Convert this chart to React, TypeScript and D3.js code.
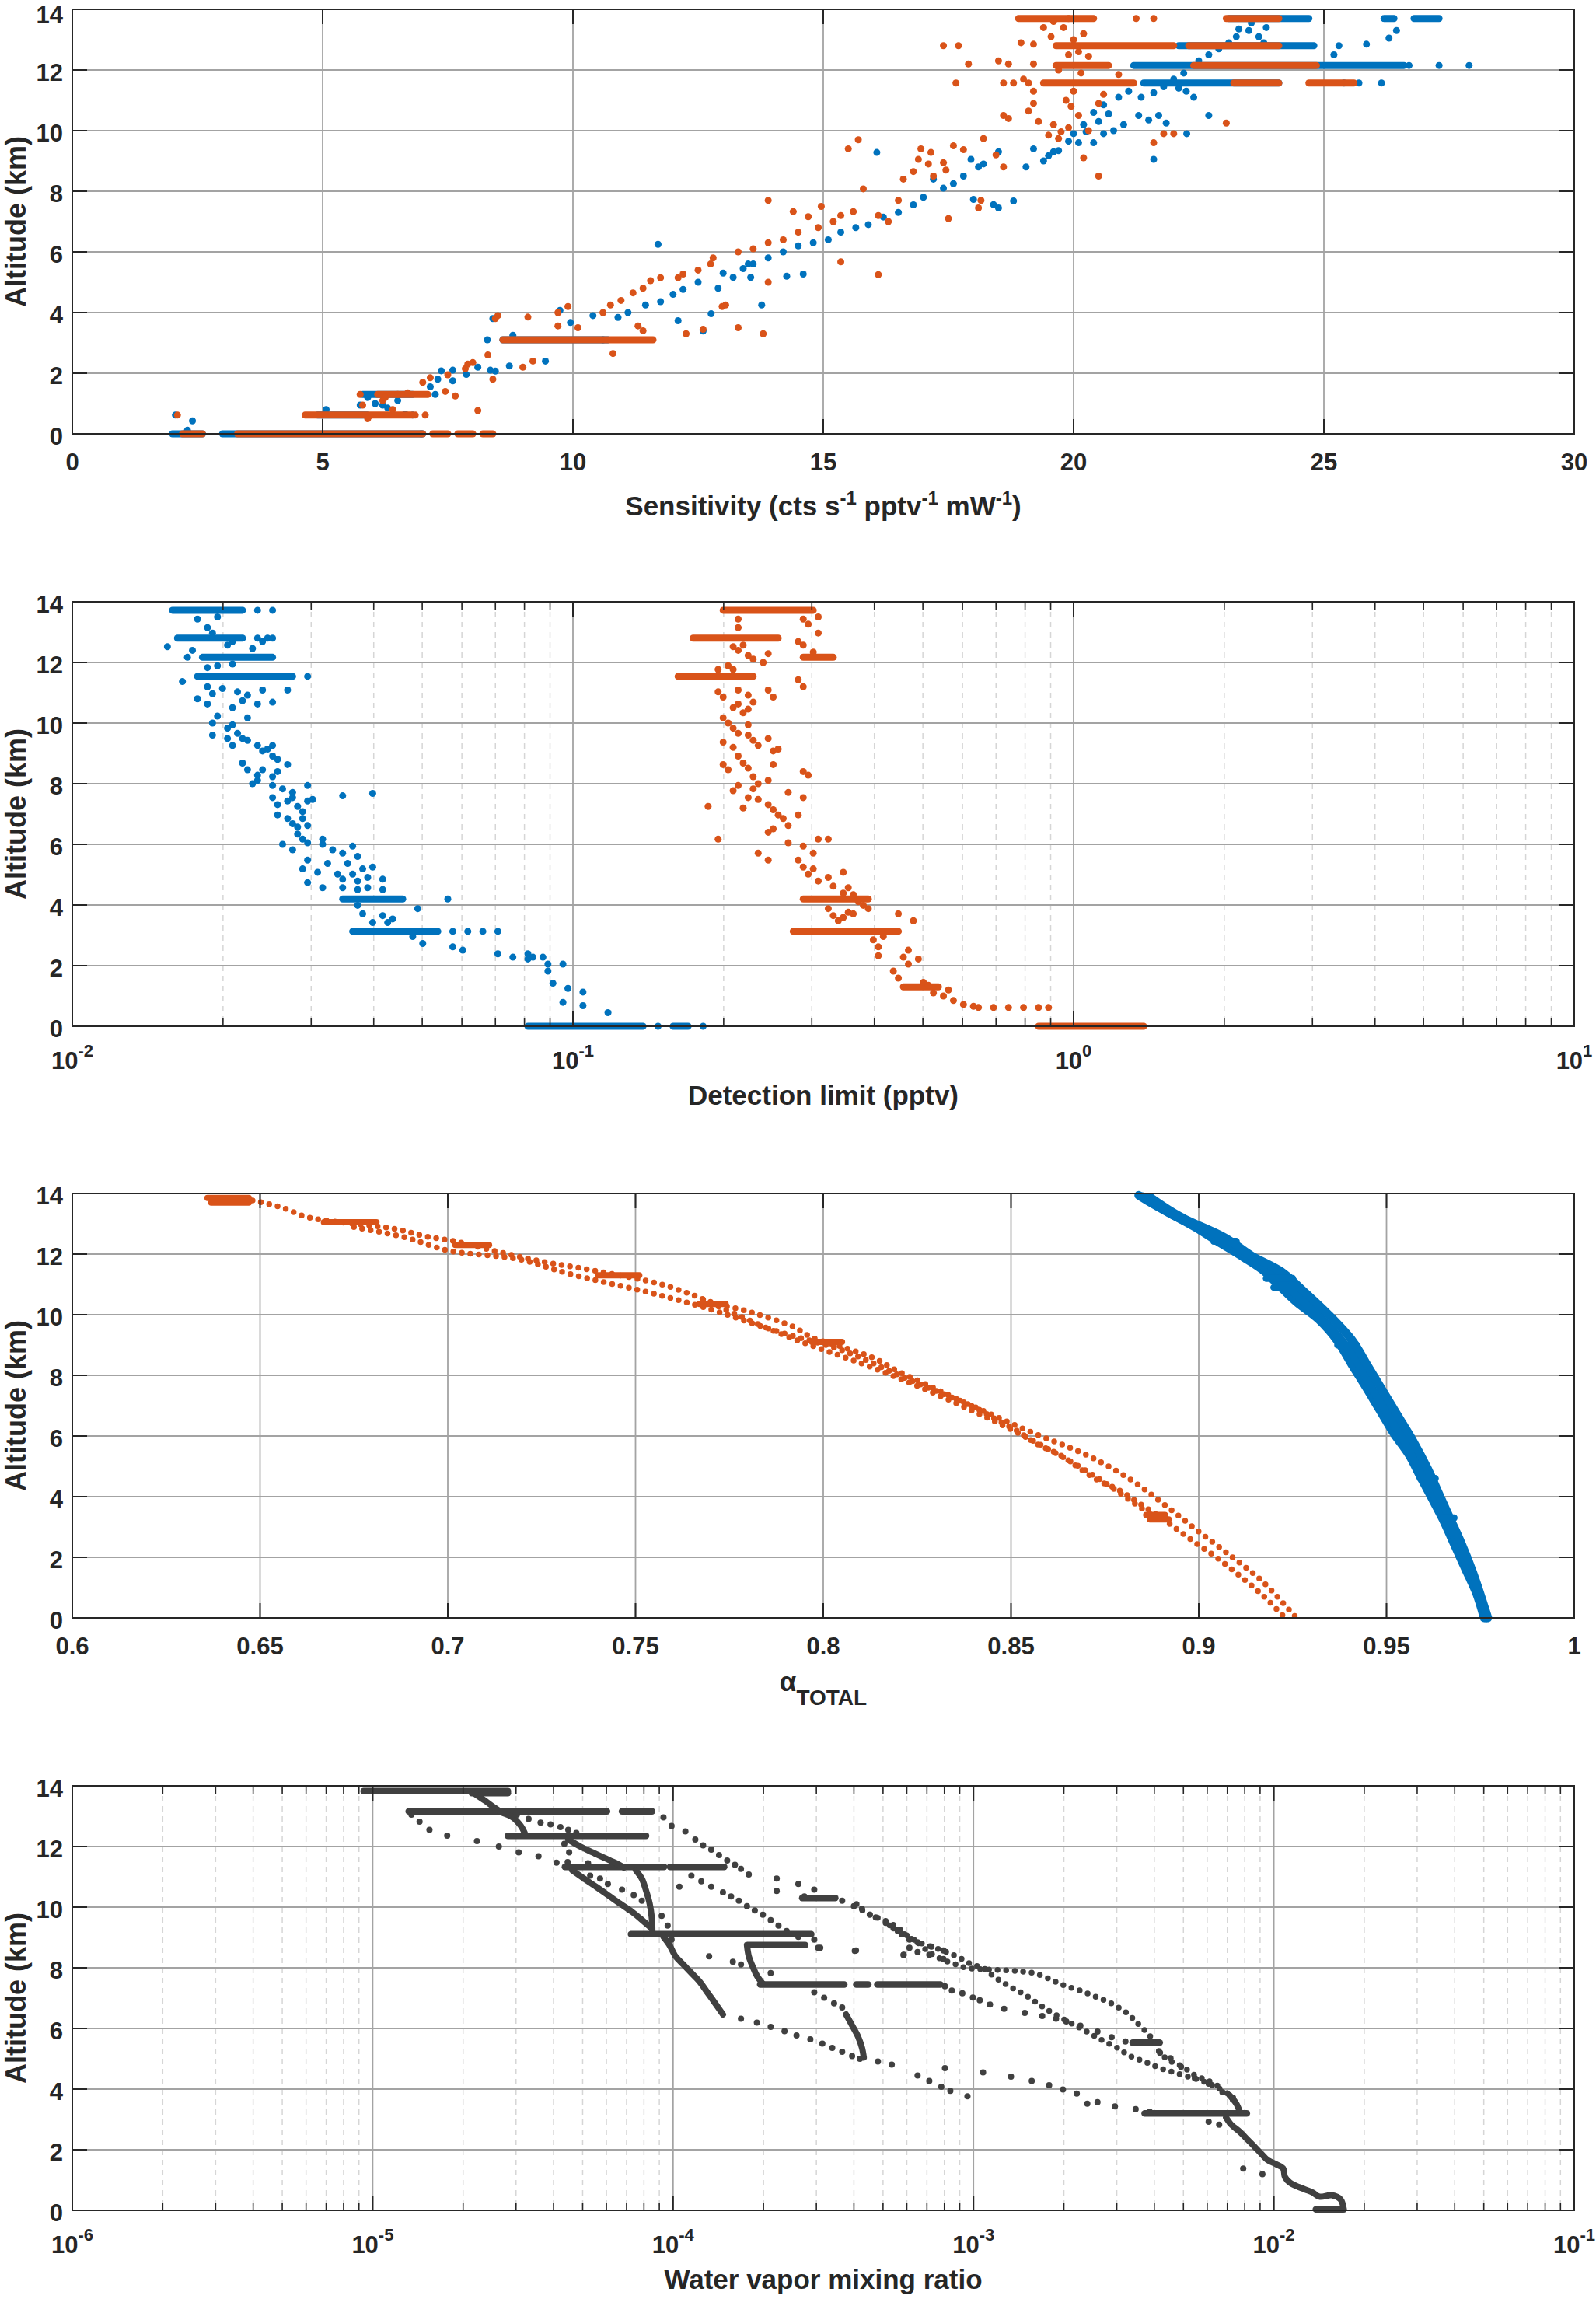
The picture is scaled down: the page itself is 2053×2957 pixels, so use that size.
import React from "react";
import * as d3 from "d3";

type Pt = [number, number]; // [x value, altitude km]
type Run = [number, number, number]; // [altitude km, x start, x end]

const WIDTH = 2053;
const HEIGHT = 2957;
const LEFT = 93;
const RIGHT = 2025;
const PANEL_H = 546;
const TOPS = [12, 774, 1535, 2297];

const BLUE = "#0072BD";
const ORANGE = "#D95319";
const GRAY = "#404040";
const INK = "#262626";
const FONT = "'Liberation Sans', Arial, Helvetica, sans-serif";

const altTicks = [0, 2, 4, 6, 8, 10, 12, 14];
const sensTicks = [0, 5, 10, 15, 20, 25, 30];
const dlDecades = [-2, -1, 0, 1];
const alphaTicks = [0.6, 0.65, 0.7, 0.75, 0.8, 0.85, 0.9, 0.95, 1];
const alphaTickLabels = ["0.6", "0.65", "0.7", "0.75", "0.8", "0.85", "0.9", "0.95", "1"];
const wvDecades = [-6, -5, -4, -3, -2, -1];

// ---------- panel 1: sensitivity ----------
const sensBlueRuns: Run[] = [
  [0, 2.0, 2.6], [0, 3.0, 7.0], [0.62, 4.9, 5.9], [1.3, 5.8, 6.8], [3.1, 8.6, 10.7],
  [13.7, 23.1, 24.7], [13.7, 26.2, 26.4], [13.7, 26.8, 27.3],
  [12.8, 22.1, 24.8], [12.15, 21.2, 26.6], [11.57, 21.4, 24.1],
];
const sensBluePts: Pt[] = [
  [2.06, 0.62], [2.3, 0.12], [2.4, 0.43], [5.07, 0.8], [5.75, 0.95], [5.9, 1.2], [6.05, 1.0],
  [6.2, 0.95], [6.3, 0.85], [6.5, 1.1], [6.65, 0.65], [6.8, 0.62], [6.97, 0], [7.25, 1.3],
  [7.15, 1.55], [7.3, 1.8], [7.37, 2.08], [7.6, 1.75], [7.6, 2.1], [7.87, 1.96], [8.1, 2.2],
  [8.29, 3.1], [8.35, 2.1], [8.4, 3.8], [8.73, 2.24], [8.45, 2.07], [9.45, 2.4], [8.8, 3.25],
  [9.74, 4.07], [9.95, 3.67], [10.4, 3.9], [10.6, 3.1], [10.9, 3.84], [11.1, 4.0], [11.45, 4.25],
  [11.7, 6.25], [11.75, 4.36], [12.0, 4.6], [12.2, 4.76], [12.5, 5.0], [12.1, 3.73], [12.6, 3.39],
  [12.76, 3.96], [13.77, 4.25], [12.9, 4.8], [13.2, 5.16], [13.4, 5.45], [13.6, 5.6], [13.55, 5.16],
  [13.9, 5.8], [14.27, 5.2], [14.6, 5.27], [13.0, 5.3], [13.5, 5.6],
  [14.2, 6.0], [14.5, 6.2], [14.8, 6.3], [15.1, 6.4], [15.35, 6.65], [15.65, 6.8], [15.9, 6.9],
  [16.2, 7.15], [16.5, 7.3], [16.8, 7.55], [17.0, 7.8], [17.2, 8.4], [17.4, 8.1], [17.6, 8.25],
  [17.8, 8.5], [17.95, 9.05], [18.1, 8.8], [18.2, 8.9], [18.5, 9.3], [18.0, 7.73], [18.4, 7.56],
  [18.5, 7.45], [18.8, 7.68], [16.07, 9.28],
  [19.05, 8.8], [19.4, 9.0], [19.6, 9.3], [19.9, 9.65], [20.0, 9.9], [20.2, 10.2], [20.4, 10.6],
  [20.6, 10.85], [20.9, 11.1], [21.1, 11.3], [19.2, 9.4], [19.5, 9.17], [19.7, 9.34], [20.1, 9.6],
  [20.25, 9.96], [20.4, 9.6], [20.6, 9.9], [20.8, 10.0], [21.0, 10.2], [20.5, 10.3], [20.7, 10.55],
  [21.6, 9.05], [21.3, 10.5], [21.5, 10.35], [21.7, 10.5], [21.85, 10.25], [22.26, 9.9], [22.7, 10.5],
  [22.4, 11.1], [22.25, 11.3], [22.1, 11.4], [21.35, 11.1], [21.6, 11.25], [21.8, 11.45], [22.0, 11.7],
  [22.2, 11.9], [22.5, 12.3], [22.7, 12.5], [22.9, 12.7], [23.1, 12.9], [23.25, 13.1], [23.3, 13.35],
  [23.5, 13.3], [23.7, 13.1], [23.8, 12.9], [23.85, 13.4], [23.55, 13.55], [25.2, 12.5], [25.85, 12.85],
  [26.3, 13.05], [26.45, 13.3], [25.3, 12.8], [26.7, 12.15], [27.3, 12.15], [27.9, 12.15],
  [25.4, 11.57], [25.7, 11.57], [26.15, 11.57],
];
const sensOrangeRuns: Run[] = [
  [0, 2.2, 2.6], [0, 3.3, 7.0], [0, 7.2, 7.5], [0, 7.7, 8.0], [0, 8.2, 8.4],
  [0.62, 4.65, 6.8], [1.3, 6.1, 7.1], [3.1, 8.6, 11.6],
  [13.7, 18.9, 20.4], [13.7, 23.05, 24.1],
  [12.8, 19.65, 22.0], [12.8, 22.3, 24.1],
  [12.15, 19.65, 20.7], [12.15, 22.4, 24.85],
  [11.57, 19.4, 21.2], [11.57, 23.2, 24.1], [11.57, 24.7, 25.6],
];
const sensOrangePts: Pt[] = [
  [2.1, 0.62], [5.75, 1.3], [5.8, 0.95], [5.95, 0.6], [5.9, 0.5], [6.2, 1.1], [6.25, 1.2],
  [6.4, 0.8], [6.5, 1.3], [6.7, 1.35], [6.85, 0.62], [7.05, 0.62], [7.0, 1.7], [7.15, 1.85],
  [7.5, 1.95], [7.45, 1.4], [7.65, 1.25], [7.85, 2.15], [7.9, 2.3], [8.0, 2.35], [8.1, 0.77],
  [8.3, 2.6], [8.4, 1.8], [8.5, 3.9], [8.45, 3.8], [9.0, 2.2], [9.2, 2.4], [9.1, 3.85],
  [9.7, 4.0], [9.9, 4.2], [9.7, 3.56], [10.1, 3.5], [10.6, 4.0], [10.75, 4.25], [10.96, 4.4],
  [11.2, 4.65], [11.4, 4.8], [11.55, 5.05], [11.75, 5.15], [12.1, 5.15], [12.2, 5.27], [12.5, 5.4],
  [12.75, 5.6], [12.8, 5.8], [11.3, 3.56], [12.26, 3.3], [12.6, 3.45], [12.98, 4.2], [13.05, 4.25],
  [13.3, 3.5], [13.8, 3.3], [13.9, 5.0], [13.3, 6.0], [13.6, 6.1], [13.9, 6.3], [14.2, 6.4],
  [14.5, 6.65], [14.7, 7.16], [14.9, 6.8], [15.2, 7.0], [15.35, 7.2], [15.6, 7.33], [15.8, 8.08],
  [13.9, 7.7], [14.4, 7.33], [14.96, 7.5], [15.35, 5.67], [16.1, 5.25], [15.5, 9.4], [15.7, 9.7],
  [16.1, 7.2], [16.3, 7.0], [16.5, 7.7], [16.6, 8.4], [16.8, 8.65], [16.9, 9.05], [17.1, 8.9],
  [16.95, 9.4], [17.15, 9.28], [17.4, 8.94], [17.6, 9.5], [17.8, 9.37], [17.2, 8.5], [17.45, 8.7],
  [17.5, 7.1], [18.1, 7.45], [18.15, 7.7], [18.2, 9.74], [18.45, 9.2], [18.6, 8.8], [18.6, 10.5],
  [18.7, 10.4], [19.1, 10.65], [19.2, 10.9], [19.3, 10.3], [19.5, 9.85], [19.6, 10.2], [19.7, 9.74],
  [19.75, 9.96], [19.95, 10.8], [20.1, 10.5], [20.2, 9.1], [20.5, 8.5], [20.5, 10.9], [20.9, 11.85],
  [21.6, 9.6], [21.8, 9.9], [22.0, 9.9], [23.05, 10.25], [18.5, 12.3], [18.7, 12.2], [19.2, 12.2],
  [18.95, 12.9], [19.2, 12.85], [19.0, 11.7], [19.2, 11.3], [19.4, 13.4], [19.6, 13.6], [19.8, 13.4],
  [19.9, 13.7], [17.65, 11.57], [17.9, 12.2], [17.4, 12.8], [17.7, 12.8], [18.6, 11.57], [18.8, 11.57],
  [19.1, 11.57], [19.85, 11.0], [20.0, 11.3], [20.15, 11.9], [19.9, 12.5], [20.3, 12.45], [20.1, 12.6],
  [19.7, 12.0], [20.0, 13.0], [20.2, 13.2], [19.55, 13.1], [20.6, 11.2], [19.9, 10.1], [20.3, 10.0],
  [21.25, 13.7], [21.6, 13.7], [10.8, 2.65], [11.4, 3.4],
];

// ---------- panel 2: detection limit (log10 pptv) ----------
const dlBlueRuns: Run[] = [
  [13.72, -1.8, -1.66], [12.8, -1.79, -1.66], [12.17, -1.74, -1.6], [11.54, -1.75, -1.56],
  [4.2, -1.46, -1.34], [3.13, -1.44, -1.27], [0, -1.09, -0.86], [0, -0.8, -0.77],
];
const dlBlueLog: Pt[] = [
  [-1.63, 13.72], [-1.6, 13.72], [-1.63, 12.8], [-1.61, 12.8], [-1.53, 11.54], [-1.25, 4.2],
  [-1.24, 3.13], [-1.21, 3.13], [-1.18, 3.13], [-1.15, 3.13], [-0.83, 0], [-0.74, 0],
  [-1.81, 12.52], [-1.76, 12.4], [-1.77, 12.17], [-1.75, 13.43], [-1.73, 13.15], [-1.72, 12.97],
  [-1.71, 13.5], [-1.69, 12.57], [-1.68, 12.69], [-1.64, 12.46], [-1.62, 12.69], [-1.6, 12.8],
  [-1.78, 11.37], [-1.73, 11.83], [-1.71, 11.89], [-1.68, 11.95], [-1.73, 11.2], [-1.7, 11.14],
  [-1.67, 11.03], [-1.65, 10.92], [-1.62, 11.09], [-1.57, 11.09], [-1.75, 10.8], [-1.73, 10.63],
  [-1.72, 10.97], [-1.68, 10.51], [-1.66, 10.74], [-1.63, 10.63], [-1.6, 10.69],
  [-1.72, 10.0], [-1.71, 10.23], [-1.69, 9.83], [-1.68, 9.94], [-1.67, 9.66], [-1.65, 10.17],
  [-1.72, 9.6], [-1.69, 9.49], [-1.68, 9.26], [-1.66, 9.49],
  [-1.65, 9.43], [-1.63, 9.26], [-1.62, 9.08], [-1.61, 9.14], [-1.6, 8.91], [-1.6, 9.26],
  [-1.59, 8.8], [-1.57, 8.63], [-1.66, 8.68], [-1.65, 8.46], [-1.63, 8.28], [-1.62, 8.46],
  [-1.6, 8.23], [-1.59, 8.4], [-1.64, 8.0], [-1.63, 8.11], [-1.6, 7.94], [-1.58, 7.83],
  [-1.56, 7.71], [-1.53, 7.94],
  [-1.6, 7.54], [-1.59, 7.31], [-1.57, 7.43], [-1.56, 7.54], [-1.55, 7.25], [-1.54, 7.08],
  [-1.53, 7.43], [-1.52, 7.48], [-1.59, 6.97], [-1.57, 6.85], [-1.56, 6.68], [-1.55, 6.57],
  [-1.55, 6.34], [-1.54, 6.17], [-1.53, 6.62], [-1.58, 6.0], [-1.56, 5.82], [-1.54, 6.85],
  [-1.46, 7.6], [-1.4, 7.68],
  [-1.53, 6.05], [-1.5, 6.0], [-1.5, 6.17], [-1.48, 5.82], [-1.46, 5.71], [-1.45, 5.37],
  [-1.44, 5.94], [-1.43, 5.6], [-1.42, 5.19], [-1.54, 5.19], [-1.53, 5.48], [-1.51, 5.08],
  [-1.49, 5.37], [-1.47, 5.02], [-1.46, 4.85], [-1.44, 5.02], [-1.43, 4.79], [-1.41, 4.91],
  [-1.4, 5.25], [-1.38, 4.85], [-1.53, 4.74], [-1.5, 4.57], [-1.46, 4.57], [-1.43, 4.51],
  [-1.41, 4.57], [-1.38, 4.51],
  [-1.43, 3.99], [-1.42, 3.71], [-1.4, 3.42], [-1.38, 3.65], [-1.37, 3.42], [-1.36, 3.54],
  [-1.31, 3.88], [-1.32, 2.96], [-1.3, 2.73],
  [-1.24, 2.62], [-1.22, 2.51], [-1.15, 2.39], [-1.12, 2.28], [-1.09, 2.39], [-1.08, 2.28],
  [-1.06, 2.28], [-1.05, 2.05], [-1.05, 1.82], [-1.02, 2.05], [-1.04, 1.42], [-1.01, 1.25],
  [-0.98, 1.13], [-1.02, 0.79], [-0.98, 0.68], [-0.93, 0.45], [-1.09, 2.22],
];
const dlOrangeRuns: Run[] = [
  [13.72, -0.7, -0.52], [12.8, -0.76, -0.59], [12.17, -0.54, -0.48], [11.54, -0.79, -0.64],
  [4.2, -0.54, -0.41], [3.13, -0.56, -0.35], [1.3, -0.34, -0.27], [0, -0.07, 0.14],
];
const dlOrangeLog: Pt[] = [
  [-0.67, 13.43], [-0.67, 13.15], [-0.54, 13.43], [-0.53, 13.26], [-0.51, 13.5], [-0.55, 12.69],
  [-0.54, 12.57], [-0.52, 12.34], [-0.51, 12.97], [-0.68, 12.52], [-0.67, 12.4], [-0.66, 12.57],
  [-0.65, 12.23], [-0.69, 11.89], [-0.64, 12.11], [-0.62, 12.0], [-0.61, 12.29], [-0.71, 11.77],
  [-0.68, 11.77], [-0.55, 11.43], [-0.54, 11.2], [-0.61, 11.09], [-0.6, 10.86], [-0.71, 11.03],
  [-0.7, 10.86], [-0.67, 11.09], [-0.65, 10.92], [-0.64, 10.69], [-0.68, 10.51], [-0.67, 10.63],
  [-0.66, 10.34], [-0.65, 10.46], [-0.7, 10.17], [-0.69, 10.0], [-0.68, 9.83], [-0.67, 9.66],
  [-0.65, 9.94], [-0.65, 9.6], [-0.64, 9.43], [-0.63, 9.26], [-0.61, 9.49], [-0.6, 9.08],
  [-0.59, 9.14], [-0.7, 9.37], [-0.68, 9.2], [-0.7, 8.63], [-0.69, 8.46], [-0.67, 8.91],
  [-0.66, 8.68], [-0.65, 8.51], [-0.64, 8.23], [-0.63, 8.0], [-0.61, 8.11], [-0.6, 8.63],
  [-0.54, 8.4], [-0.53, 8.28], [-0.68, 7.77], [-0.67, 7.94], [-0.65, 7.54], [-0.64, 7.83],
  [-0.63, 7.48], [-0.61, 7.31], [-0.6, 7.14], [-0.59, 6.97], [-0.58, 6.85], [-0.57, 6.62],
  [-0.55, 6.97], [-0.73, 7.25], [-0.66, 7.2], [-0.71, 6.17], [-0.61, 6.4], [-0.6, 6.51],
  [-0.57, 7.71], [-0.54, 7.54], [-0.63, 5.71], [-0.61, 5.48], [-0.57, 6.05], [-0.54, 5.94],
  [-0.52, 5.71], [-0.51, 6.17], [-0.49, 6.17], [-0.55, 5.48], [-0.54, 5.25], [-0.53, 5.02],
  [-0.52, 5.19], [-0.51, 4.79], [-0.49, 4.91], [-0.48, 4.62], [-0.46, 5.08], [-0.46, 4.39],
  [-0.45, 4.57], [-0.44, 4.34], [-0.43, 4.11], [-0.49, 3.88], [-0.48, 3.65], [-0.47, 3.48],
  [-0.46, 3.59], [-0.45, 3.76], [-0.44, 3.71], [-0.42, 3.99], [-0.41, 3.88], [-0.4, 2.85],
  [-0.39, 2.33], [-0.39, 2.62], [-0.38, 2.96], [-0.36, 1.82], [-0.35, 1.59], [-0.34, 2.28],
  [-0.33, 2.05], [-0.33, 2.51], [-0.35, 3.71], [-0.32, 3.48], [-0.31, 2.22],
  [-0.3, 1.45], [-0.29, 1.35], [-0.28, 1.1], [-0.26, 1.0], [-0.25, 1.2], [-0.24, 0.85],
  [-0.22, 0.72], [-0.2, 0.66], [-0.19, 0.62], [-0.16, 0.62], [-0.13, 0.62], [-0.1, 0.62],
  [-0.07, 0.62], [-0.05, 0.62],
];

// ---------- panel 3: alpha total ----------
const alphaBlueTracks: Pt[][] = [
  [
    [0.884, 13.94], [0.887, 13.71], [0.892, 13.36], [0.899, 12.89], [0.905, 12.42], [0.912, 11.89],
    [0.917, 11.48], [0.921, 11.01], [0.926, 10.42], [0.932, 9.84], [0.937, 9.13], [0.941, 8.31],
    [0.944, 7.72], [0.948, 6.9], [0.952, 6.08], [0.956, 5.38], [0.959, 4.67], [0.962, 3.97],
    [0.965, 3.26], [0.968, 2.44], [0.971, 1.62], [0.974, 0.8], [0.976, 0],
  ],
  [
    [0.885, 13.9], [0.893, 13.3], [0.906, 12.48], [0.913, 11.92], [0.919, 11.45], [0.924, 10.9],
    [0.93, 10.2], [0.937, 9.3], [0.943, 8.31], [0.946, 7.6], [0.95, 6.8], [0.954, 6.0],
    [0.958, 5.1], [0.962, 4.2], [0.966, 3.26], [0.969, 2.44], [0.972, 1.55], [0.9765, 0],
  ],
  [
    [0.887, 13.88], [0.895, 13.24], [0.907, 12.54], [0.914, 11.95], [0.922, 11.42], [0.928, 10.77],
    [0.935, 9.95], [0.941, 9.13], [0.945, 8.31], [0.949, 7.49], [0.953, 6.67], [0.957, 5.85],
    [0.961, 4.91], [0.964, 4.08], [0.967, 3.26], [0.97, 2.44], [0.973, 1.5], [0.977, 0],
  ],
];
const alphaBlueRuns: Run[] = [
  [12.42, 0.904, 0.91], [11.2, 0.918, 0.925], [10.9, 0.92, 0.926], [9.0, 0.937, 0.942],
  [4.6, 0.959, 0.963], [3.3, 0.965, 0.968],
];
const alphaOrangeTracks: Pt[][] = [
  [
    [0.648, 13.77], [0.656, 13.53], [0.662, 13.24], [0.667, 13.12], [0.686, 12.83], [0.694, 12.59],
    [0.702, 12.42], [0.716, 12.0], [0.727, 11.71], [0.738, 11.48], [0.757, 11.0], [0.765, 10.66],
    [0.77, 10.42], [0.781, 10.07], [0.792, 9.6], [0.797, 9.25], [0.806, 8.9], [0.814, 8.54],
    [0.819, 8.19], [0.825, 7.84], [0.83, 7.55], [0.835, 7.25], [0.841, 6.9], [0.846, 6.55],
    [0.852, 6.14], [0.857, 5.73], [0.863, 5.38], [0.868, 4.96], [0.873, 4.55], [0.879, 4.2],
    [0.884, 3.79], [0.89, 3.3], [0.895, 2.85], [0.9, 2.4], [0.905, 1.97], [0.911, 1.38],
    [0.917, 0.75], [0.923, 0],
  ],
  [
    [0.675, 12.89], [0.689, 12.54], [0.7, 12.12], [0.719, 11.83], [0.732, 11.36], [0.754, 10.72],
    [0.768, 10.25], [0.787, 9.48], [0.806, 8.78], [0.822, 7.9], [0.838, 7.08], [0.854, 6.2],
    [0.871, 5.32], [0.882, 4.55], [0.891, 3.72], [0.9, 2.85], [0.909, 2.0], [0.917, 1.2],
    [0.926, 0],
  ],
  [
    [0.768, 10.5], [0.79, 9.3], [0.81, 8.4], [0.826, 7.6], [0.842, 6.7], [0.858, 5.7],
    [0.872, 4.7], [0.885, 3.6], [0.89, 3.2],
  ],
];
const alphaOrangeRuns: Run[] = [
  [13.85, 0.636, 0.647], [13.7, 0.637, 0.647], [13.05, 0.667, 0.681], [12.3, 0.702, 0.711],
  [11.3, 0.74, 0.751], [10.35, 0.767, 0.774], [9.1, 0.797, 0.805], [3.25, 0.887, 0.892],
  [3.4, 0.886, 0.891],
];

// ---------- panel 4: water vapour (log10 mixing ratio) ----------
const wvRuns: Run[] = [
  [13.83, -5.03, -4.55], [13.76, -4.67, -4.55], [13.16, -4.88, -4.22], [13.16, -4.17, -4.07],
  [12.35, -4.55, -4.09], [11.33, -4.36, -4.03], [11.33, -4.01, -3.83], [9.11, -4.14, -3.54],
  [8.75, -3.75, -3.56], [7.45, -3.71, -3.43], [7.45, -3.39, -3.35], [7.45, -3.32, -3.11],
  [5.53, -2.47, -2.38], [3.2, -2.43, -2.09], [10.3, -3.57, -3.46], [0.03, -1.86, -1.77],
];
const wvSolidTracks: Pt[][] = [
  [[-4.666, 13.78], [-4.626, 13.51], [-4.6, 13.32], [-4.573, 13.14], [-4.534, 12.96], [-4.507, 12.68], [-4.494, 12.45]],
  [[-4.349, 12.23], [-4.309, 12.0], [-4.269, 11.81], [-4.23, 11.63], [-4.19, 11.45], [-4.164, 11.31]],
  [[-4.336, 11.22], [-4.296, 10.94], [-4.256, 10.67], [-4.217, 10.4], [-4.177, 10.12], [-4.137, 9.85], [-4.098, 9.53], [-4.071, 9.3]],
  [[-4.124, 11.22], [-4.104, 10.94], [-4.091, 10.58], [-4.078, 10.12], [-4.071, 9.66], [-4.069, 9.21]],
  [[-4.032, 9.02], [-4.012, 8.75], [-3.992, 8.38], [-3.966, 8.11], [-3.939, 7.83], [-3.913, 7.56], [-3.886, 7.19], [-3.86, 6.83], [-3.834, 6.46]],
  [[-3.754, 8.75], [-3.748, 8.38], [-3.734, 8.02], [-3.721, 7.74], [-3.701, 7.47]],
  [[-3.424, 6.46], [-3.404, 6.1], [-3.384, 5.73], [-3.371, 5.36], [-3.365, 5.04]],
  [[-2.148, 3.8], [-2.125, 3.52], [-2.113, 3.24]],
  [
    [-2.159, 3.06], [-2.142, 2.83], [-2.113, 2.59], [-2.09, 2.36], [-2.067, 2.13], [-2.044, 1.89],
    [-2.021, 1.66], [-1.992, 1.52], [-1.969, 1.38], [-1.963, 1.1], [-1.946, 0.91], [-1.917, 0.77],
    [-1.894, 0.68], [-1.871, 0.59], [-1.848, 0.45], [-1.807, 0.5], [-1.778, 0.36], [-1.767, 0.03],
  ],
];
const wvDottedTracks: Pt[][] = [
  [
    [-3.389, 10.1], [-3.366, 9.86], [-3.326, 9.68], [-3.291, 9.54], [-3.256, 9.35], [-3.222, 9.07],
    [-3.181, 8.84], [-3.141, 8.7], [-3.1, 8.56], [-3.066, 8.42], [-3.037, 8.28], [-3.002, 8.09],
    [-2.968, 8.0], [-2.933, 7.72], [-2.898, 7.49], [-2.864, 7.3], [-2.829, 7.11], [-2.794, 6.88],
    [-2.766, 6.69], [-2.737, 6.51], [-2.702, 6.32], [-2.667, 6.13], [-2.633, 5.95], [-2.598, 5.76],
    [-2.563, 5.57], [-2.517, 5.34], [-2.483, 5.11], [-2.448, 4.97], [-2.413, 4.83], [-2.379, 4.69],
    [-2.333, 4.55], [-2.286, 4.41], [-2.24, 4.27], [-2.194, 4.08], [-2.148, 3.8], [-2.125, 3.43],
  ],
  [
    [-3.279, 9.4], [-3.245, 9.21], [-3.21, 8.98], [-3.187, 8.84], [-3.147, 8.51], [-3.106, 8.28],
    [-3.066, 8.14], [-3.025, 8.0], [-2.881, 7.91], [-2.794, 7.81], [-2.725, 7.53], [-2.691, 7.39],
    [-2.644, 7.25], [-2.587, 7.02], [-2.552, 6.88], [-2.517, 6.69], [-2.483, 6.46], [-2.46, 6.23],
    [-2.431, 5.95], [-2.402, 5.62], [-2.379, 5.2], [-2.344, 4.92], [-2.304, 4.74], [-2.263, 4.46],
    [-2.217, 4.27], [-2.182, 4.08],
  ],
];
const wvPts: Pt[] = [
  // sparse left diagonal
  [-4.871, 13.05], [-4.844, 12.82], [-4.811, 12.55], [-4.752, 12.36], [-4.653, 12.18], [-4.58, 12.0],
  [-4.514, 11.81], [-4.448, 11.68], [-4.388, 11.47],
  [-4.52, 13.05], [-4.481, 12.91], [-4.441, 12.79], [-4.408, 12.73], [-4.375, 12.64], [-4.349, 12.55], [-4.322, 12.45],
  [-4.362, 12.09], [-4.346, 11.81], [-4.351, 11.49],
  [-4.283, 11.45], [-4.276, 11.04], [-4.243, 10.94], [-4.217, 10.76], [-4.17, 10.58], [-4.131, 10.4],
  [-4.104, 10.21], [-4.038, 9.71], [-4.018, 9.39], [-4.005, 8.93],
  // lower dotted profile
  [-3.774, 6.32], [-3.721, 6.19], [-3.675, 6.05], [-3.629, 5.91], [-3.589, 5.77], [-3.543, 5.64],
  [-3.503, 5.5], [-3.47, 5.36], [-3.437, 5.23], [-3.404, 5.09], [-3.378, 5.0], [-3.318, 4.91],
  [-3.272, 4.81], [-3.186, 4.45], [-3.147, 4.27], [-3.107, 4.08], [-3.077, 3.94], [-3.02, 3.76],
  [-3.53, 7.19], [-3.497, 7.01], [-3.464, 6.83], [-3.437, 6.69],
  [-3.979, 10.67], [-3.88, 8.38], [-3.801, 8.2], [-3.774, 8.11], [-3.675, 7.83], [-3.391, 8.57],
  [-3.51, 8.66], [-3.53, 8.93],
  // right dotted profile, upper part
  [-4.032, 12.96], [-4.005, 12.68], [-3.959, 12.5], [-3.926, 12.23], [-3.9, 12.04], [-3.873, 11.9],
  [-3.847, 11.72], [-3.82, 11.54], [-3.794, 11.4], [-3.774, 11.26], [-3.748, 11.08],
  [-3.655, 10.94], [-3.655, 10.53], [-3.583, 10.76], [-3.563, 10.35], [-3.53, 10.58],
  [-3.437, 10.21], [-3.398, 10.03], [-3.371, 9.94], [-3.345, 9.75], [-3.325, 9.66], [-3.292, 9.48],
  [-3.266, 9.3], [-3.239, 9.11], [-3.213, 8.93], [-3.186, 8.84], [-3.14, 8.7], [-3.1, 8.57],
  [-3.252, 9.21], [-3.213, 8.66], [-3.232, 8.43], [-3.186, 8.52], [-3.147, 8.43], [-3.1, 8.29],
  [-3.939, 11.04], [-3.906, 10.85], [-3.873, 10.67], [-3.834, 10.49], [-3.807, 10.35], [-3.781, 10.21],
  [-3.754, 10.03], [-3.728, 9.89], [-3.701, 9.75], [-3.675, 9.57], [-3.649, 9.39], [-3.622, 9.21],
  [-3.583, 9.02], [-3.517, 8.66],
  // continuation of the 7.45 km level
  [-3.095, 7.39], [-3.072, 7.25], [-3.037, 7.16], [-3.002, 7.02], [-2.979, 6.93], [-2.945, 6.79],
  [-2.898, 6.65], [-2.829, 6.51], [-2.771, 6.41], [-2.725, 6.32], [-2.691, 6.23], [-2.644, 6.09],
  [-2.587, 5.9], [-2.54, 5.71], [-2.494, 5.57], [-2.448, 5.53],
  [-2.379, 5.2], [-2.344, 5.02], [-2.309, 4.74], [-2.263, 4.36], [-2.217, 4.18], [-2.171, 3.9], [-2.136, 3.71],
  [-2.968, 4.55], [-2.875, 4.41], [-2.806, 4.27], [-2.748, 4.13], [-2.702, 3.99], [-2.656, 3.85],
  [-2.621, 3.52], [-2.587, 3.57], [-2.529, 3.43], [-2.46, 3.34], [-2.413, 3.25],
  [-3.395, 8.56], [-3.233, 8.42], [-3.095, 4.69],
  [-2.217, 2.92], [-2.182, 2.83], [-2.102, 1.38], [-2.038, 1.19],
];

// ---------- drawing ----------
type YScale = d3.ScaleLinear<number, number>;

interface PanelProps {
  top: number;
  x: (v: number) => number;
  majors: number[];
  minors?: number[];
  tickLabels: React.ReactNode[];
  tickDy: number;
  title: React.ReactNode;
  marks: (y: YScale) => React.ReactNode;
}

function Panel({ top, x, majors, minors = [], tickLabels, tickDy, title, marks }: PanelProps) {
  const bottom = top + PANEL_H;
  const y = d3.scaleLinear().domain([0, 14]).range([bottom, top]);
  return (
    <g>
      {minors.map((v) => (
        <line key={`mg${v}`} x1={x(v)} x2={x(v)} y1={top} y2={bottom} stroke="#d6d6d6" strokeWidth={1.5} strokeDasharray="7 6" />
      ))}
      {majors.map((v) => (
        <line key={`g${v}`} x1={x(v)} x2={x(v)} y1={top} y2={bottom} stroke="#a3a3a3" strokeWidth={1.8} />
      ))}
      {altTicks.map((a) => (
        <line key={`h${a}`} x1={LEFT} x2={RIGHT} y1={y(a)} y2={y(a)} stroke="#a3a3a3" strokeWidth={1.8} />
      ))}
      {marks(y)}
      <rect x={LEFT} y={top} width={RIGHT - LEFT} height={PANEL_H} fill="none" stroke={INK} strokeWidth={2} />
      {majors.map((v) => (
        <g key={`t${v}`} stroke={INK} strokeWidth={2}>
          <line x1={x(v)} x2={x(v)} y1={bottom} y2={bottom - 19} />
          <line x1={x(v)} x2={x(v)} y1={top} y2={top + 19} />
        </g>
      ))}
      {minors.map((v) => (
        <g key={`mt${v}`} stroke={INK} strokeWidth={1.6}>
          <line x1={x(v)} x2={x(v)} y1={bottom} y2={bottom - 10} />
          <line x1={x(v)} x2={x(v)} y1={top} y2={top + 10} />
        </g>
      ))}
      {altTicks.map((a) => (
        <g key={`yt${a}`} stroke={INK} strokeWidth={2}>
          <line x1={LEFT} x2={LEFT + 19} y1={y(a)} y2={y(a)} />
          <line x1={RIGHT} x2={RIGHT - 19} y1={y(a)} y2={y(a)} />
        </g>
      ))}
      {altTicks.map((a) => (
        <text
          key={`yl${a}`}
          x={81}
          y={Math.max(y(a) + 14, 30)}
          textAnchor="end"
          fontSize={31}
          fontWeight="bold"
          fill={INK}
        >
          {a}
        </text>
      ))}
      {majors.map((v, i) => (
        <text key={`xl${v}`} x={x(v)} y={bottom + tickDy} textAnchor="middle" fontSize={31} fontWeight="bold" fill={INK}>
          {tickLabels[i]}
        </text>
      ))}
      <text
        transform={`translate(33,${top + PANEL_H / 2}) rotate(-90)`}
        textAnchor="middle"
        fontSize={36}
        fontWeight="bold"
        fill={INK}
      >
        Altitude (km)
      </text>
      {title}
    </g>
  );
}

const pow10Label = (e: number) => (
  <>
    10
    <tspan dy={-16} fontSize={22}>
      {e}
    </tspan>
  </>
);

function minorTicks(decades: number[]): number[] {
  const out: number[] = [];
  decades.slice(0, -1).forEach((d) => {
    [2, 3, 4, 5, 6, 7, 8, 9].forEach((k) => out.push(k * Math.pow(10, d)));
  });
  return out;
}

function drawRuns(runs: Run[], xf: (v: number) => number, y: YScale, color: string, w: number, key: string) {
  return runs.map((r, i) => (
    <line key={`${key}${i}`} x1={xf(r[1])} x2={xf(r[2])} y1={y(r[0])} y2={y(r[0])} stroke={color} strokeWidth={w} strokeLinecap="round" />
  ));
}

function drawPts(pts: Pt[], xf: (v: number) => number, y: YScale, color: string, r: number, key: string) {
  return pts.map((p, i) => <circle key={`${key}${i}`} cx={xf(p[0])} cy={y(p[1])} r={r} fill={color} />);
}

function drawTracks(
  tracks: Pt[][],
  xf: (v: number) => number,
  y: YScale,
  color: string,
  w: number,
  dash: string | undefined,
  key: string
) {
  const line = d3
    .line<Pt>()
    .x((p) => xf(p[0]))
    .y((p) => y(p[1]))
    .curve(d3.curveCatmullRom);
  return tracks.map((t, i) => (
    <path
      key={`${key}${i}`}
      d={line(t) ?? ""}
      fill="none"
      stroke={color}
      strokeWidth={w}
      strokeLinecap="round"
      strokeLinejoin="round"
      strokeDasharray={dash}
    />
  ));
}

export default function App() {
  const sensX = d3.scaleLinear().domain([0, 30]).range([LEFT, RIGHT]);
  const dlX = d3.scaleLog().domain([1e-2, 10]).range([LEFT, RIGHT]);
  const alphaX = d3.scaleLinear().domain([0.6, 1]).range([LEFT, RIGHT]);
  const wvX = d3.scaleLog().domain([1e-6, 1e-1]).range([LEFT, RIGHT]);
  const dlE = (e: number) => dlX(Math.pow(10, e));
  const wvE = (e: number) => wvX(Math.pow(10, e));
  const midX = (LEFT + RIGHT) / 2;

  return (
    <svg
      width={WIDTH}
      height={HEIGHT}
      viewBox={`0 0 ${WIDTH} ${HEIGHT}`}
      style={{ position: "absolute", left: 0, top: 0, background: "#fff" }}
      fontFamily={FONT}
    >
      <rect width={WIDTH} height={HEIGHT} fill="#fff" />

      <Panel
        top={TOPS[0]}
        x={sensX}
        majors={sensTicks}
        tickLabels={sensTicks.map(String)}
        tickDy={47}
        title={
          <text x={midX} y={TOPS[0] + PANEL_H + 105} textAnchor="middle" fontSize={35} fontWeight="bold" fill={INK}>
            Sensitivity (cts s
            <tspan dy={-14} fontSize={24}>-1</tspan>
            <tspan dy={14}>{" pptv"}</tspan>
            <tspan dy={-14} fontSize={24}>-1</tspan>
            <tspan dy={14}>{" mW"}</tspan>
            <tspan dy={-14} fontSize={24}>-1</tspan>
            <tspan dy={14}>)</tspan>
          </text>
        }
        marks={(y) => (
          <g>
            {drawRuns(sensBlueRuns, sensX, y, BLUE, 9, "sbr")}
            {drawPts(sensBluePts, sensX, y, BLUE, 4.5, "sbp")}
            {drawRuns(sensOrangeRuns, sensX, y, ORANGE, 9, "sor")}
            {drawPts(sensOrangePts, sensX, y, ORANGE, 4.5, "sop")}
          </g>
        )}
      />

      <Panel
        top={TOPS[1]}
        x={dlX}
        majors={dlDecades.map((d) => Math.pow(10, d))}
        minors={minorTicks(dlDecades)}
        tickLabels={dlDecades.map(pow10Label)}
        tickDy={55}
        title={
          <text x={midX} y={TOPS[1] + PANEL_H + 101} textAnchor="middle" fontSize={35} fontWeight="bold" fill={INK}>
            Detection limit (pptv)
          </text>
        }
        marks={(y) => (
          <g>
            {drawRuns(dlBlueRuns, dlE, y, BLUE, 9, "dbr")}
            {drawPts(dlBlueLog, dlE, y, BLUE, 4.5, "dbp")}
            {drawRuns(dlOrangeRuns, dlE, y, ORANGE, 9, "dor")}
            {drawPts(dlOrangeLog, dlE, y, ORANGE, 4.5, "dop")}
          </g>
        )}
      />

      <Panel
        top={TOPS[2]}
        x={alphaX}
        majors={alphaTicks}
        tickLabels={alphaTickLabels}
        tickDy={47}
        title={
          <text x={midX} y={TOPS[2] + PANEL_H + 94} textAnchor="middle" fontSize={35} fontWeight="bold" fill={INK}>
            α<tspan dy={18} fontSize={28}>TOTAL</tspan>
          </text>
        }
        marks={(y) => (
          <g>
            {drawTracks(alphaBlueTracks, alphaX, y, BLUE, 11, undefined, "abt")}
            {drawRuns(alphaBlueRuns, alphaX, y, BLUE, 9, "abr")}
            {drawTracks(alphaOrangeTracks, alphaX, y, ORANGE, 7.5, "0 11", "aot")}
            {drawRuns(alphaOrangeRuns, alphaX, y, ORANGE, 8, "aor")}
          </g>
        )}
      />

      <Panel
        top={TOPS[3]}
        x={wvX}
        majors={wvDecades.map((d) => Math.pow(10, d))}
        minors={minorTicks(wvDecades)}
        tickLabels={wvDecades.map(pow10Label)}
        tickDy={55}
        title={
          <text x={midX} y={TOPS[3] + PANEL_H + 101} textAnchor="middle" fontSize={35} fontWeight="bold" fill={INK}>
            Water vapor mixing ratio
          </text>
        }
        marks={(y) => (
          <g>
            {drawRuns(wvRuns, wvE, y, GRAY, 8.5, "wr")}
            {drawTracks(wvSolidTracks, wvE, y, GRAY, 8, undefined, "ws")}
            {drawTracks(wvDottedTracks, wvE, y, GRAY, 7.5, "0 11", "wd")}
            {drawPts(wvPts, wvE, y, GRAY, 4, "wp")}
          </g>
        )}
      />
    </svg>
  );
}
